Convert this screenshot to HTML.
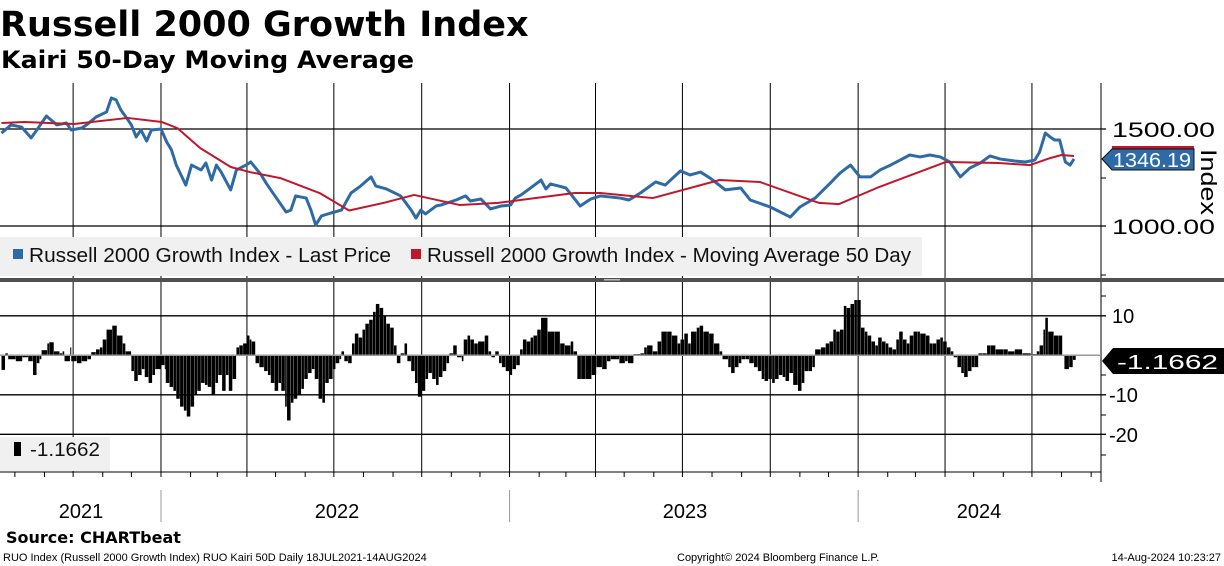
<!DOCTYPE html>
<html><head><meta charset="utf-8"><style>
html,body{margin:0;padding:0;background:#fff;}
svg{display:block;font-family:"Liberation Sans","DejaVu Sans",sans-serif;}
.t{font-family:"DejaVu Sans","Liberation Sans",sans-serif;font-weight:bold;}
</style></head><body>
<svg id="c" width="1224" height="566" viewBox="0 0 1224 566" xmlns="http://www.w3.org/2000/svg">
<text class="t" x="0" y="36" font-size="35">Russell 2000 Growth Index</text>
<text class="t" x="1" y="68" font-size="24" textLength="413" lengthAdjust="spacingAndGlyphs">Kairi 50-Day Moving Average</text>
<g id="gridG"></g>
<rect x="0" y="237" width="922" height="39" fill="#f0f0f0"/>
<g id="topG"></g>
<g id="botG"></g>
<rect x="0" y="278" width="1224" height="4" fill="#505050"/>
<rect x="604" y="279" width="16" height="1.5" fill="#bbb"/>
<rect x="13" y="249" width="10" height="10" fill="#2e6aa6"/>
<text x="29" y="262" font-size="20" fill="#111" textLength="362" lengthAdjust="spacingAndGlyphs">Russell 2000 Growth Index - Last Price</text>
<rect x="411" y="249" width="10" height="10" fill="#c0182a"/>
<text x="427" y="262" font-size="20" fill="#111" textLength="484" lengthAdjust="spacingAndGlyphs">Russell 2000 Growth Index - Moving Average 50 Day</text>
<rect x="0" y="437" width="110" height="34" fill="#f0f0f0"/>
<rect x="14" y="442" width="7" height="14" fill="#000"/>
<text x="30" y="456" font-size="19" fill="#111" textLength="70" lengthAdjust="spacingAndGlyphs">-1.1662</text>
<text x="1112" y="137" font-size="21" textLength="103" lengthAdjust="spacingAndGlyphs">1500.00</text>
<text x="1112" y="234" font-size="21" textLength="103" lengthAdjust="spacingAndGlyphs">1000.00</text>
<text x="1207" y="182" font-size="22" transform="rotate(90 1207 182)" text-anchor="middle" dominant-baseline="middle" textLength="66" lengthAdjust="spacingAndGlyphs">Index</text>
<rect x="1112" y="146" width="82" height="3" fill="#c0182a"/>
<path d="M1102,159 L1112,149 L1194,149 L1194,170 L1112,170 Z" fill="#2e6aa6" stroke="#111" stroke-width="1"/>
<text x="1113" y="167" font-size="20" fill="#fff" textLength="78" lengthAdjust="spacingAndGlyphs">1346.19</text>
<text x="1112" y="323" font-size="20">10</text>
<text x="1109" y="402" font-size="20">-10</text>
<text x="1109" y="442" font-size="20">-20</text>
<path d="M1102,361 L1113,348 L1224,348 L1224,374 L1113,374 Z" fill="#000"/>
<text x="1117" y="369" font-size="20" fill="#fff" textLength="101" lengthAdjust="spacingAndGlyphs">-1.1662</text>
<g id="xaxisG"></g>
<text x="81" y="518" font-size="20" text-anchor="middle">2021</text>
<text x="337" y="518" font-size="20" text-anchor="middle">2022</text>
<text x="685" y="518" font-size="20" text-anchor="middle">2023</text>
<text x="979" y="518" font-size="20" text-anchor="middle">2024</text>
<text class="t" x="6" y="543" font-size="16">Source: CHARTbeat</text>
<text x="3" y="561" font-size="11">RUO Index (Russell 2000 Growth Index) RUO Kairi 50D  Daily 18JUL2021-14AUG2024</text>
<text x="677" y="561" font-size="11">Copyright© 2024 Bloomberg Finance L.P.</text>
<text x="1221" y="561" font-size="11" text-anchor="end">14-Aug-2024 10:23:27</text>
</svg>
<script>
const priceDays=[0,10,21,31,37,47,58,68,73,84,89,99,110,115,120,125,131,136,141,146,152,157,167,173,178,183,188,193,199,209,214,220,225,230,240,246,256,261,272,277,282,293,298,303,308,319,324,329,335,345,356,366,376,387,392,403,418,429,434,439,444,455,460,476,486,491,502,512,523,533,538,544,554,565,570,575,591,601,606,617,627,648,657,669,685,695,711,721,732,742,758,774,784,805,826,836,852,868,878,889,899,910,920,931,941,951,962,972,983,993,1004,1014,1025,1035,1046,1061,1072,1082,1087,1093,1098,1103,1108,1114,1119,1123];
const priceVals=[1479,1521,1510,1454,1495,1567,1521,1531,1495,1505,1521,1562,1588,1660,1650,1598,1557,1521,1459,1495,1438,1495,1500,1433,1392,1314,1263,1211,1314,1289,1325,1237,1314,1278,1186,1289,1314,1330,1263,1222,1186,1108,1072,1082,1155,1144,1082,1005,1052,1067,1082,1170,1206,1253,1206,1191,1155,1082,1041,1082,1062,1103,1108,1134,1155,1129,1139,1088,1103,1108,1144,1160,1196,1237,1191,1217,1196,1134,1103,1139,1155,1144,1134,1170,1227,1211,1284,1263,1278,1247,1186,1196,1134,1098,1046,1098,1144,1222,1273,1314,1253,1253,1289,1314,1340,1366,1356,1366,1356,1330,1253,1299,1325,1361,1345,1335,1330,1340,1381,1479,1459,1443,1443,1330,1314,1346];
const maDays=[0,24,76,132,168,184,208,240,260,292,333,364,400,432,480,520,600,627,682,752,794,856,877,919,989,1044,1077,1098,1110,1123];
const maVals=[1531,1536,1526,1557,1536,1505,1402,1304,1278,1247,1170,1080,1119,1160,1108,1119,1170,1170,1144,1237,1227,1119,1113,1201,1330,1325,1314,1350,1366,1361];
const kairiDays=[0,4,7,15,22,28,33,37,40,42,48,50,55,61,64,66,72,73,79,84,90,94,99,103,106,110,116,121,127,130,136,139,143,147,150,154,158,161,167,171,172,176,180,183,187,191,194,198,202,205,209,213,216,220,224,227,231,235,238,242,246,249,253,257,260,262,266,270,275,279,282,286,290,293,297,299,303,306,310,314,317,321,325,328,332,336,339,343,347,350,354,356,359,363,367,370,374,378,381,385,389,392,396,400,403,407,411,414,418,422,425,429,433,436,440,444,447,451,455,458,462,466,469,473,477,482,484,488,491,495,499,506,510,513,517,521,524,528,532,535,539,543,546,550,554,557,561,565,572,579,585,590,596,599,603,607,612,618,623,629,634,638,647,653,656,662,665,669,673,676,682,687,691,697,702,708,711,715,719,722,728,731,735,741,746,752,755,761,764,768,772,775,779,783,788,792,796,799,803,807,810,814,818,821,825,829,834,838,841,845,849,852,858,863,867,871,874,878,882,885,889,893,896,900,904,907,911,915,918,922,926,929,933,937,940,944,948,951,955,959,962,968,972,975,979,983,986,990,994,997,1001,1005,1008,1012,1016,1019,1023,1027,1032,1036,1041,1049,1054,1061,1069,1078,1084,1087,1091,1093,1096,1102,1107,1111,1113,1118,1122];
const kairiVals=[-3.7,0.5,-1,-1.5,-0.5,-1.5,-5,-2,-1,1.3,3,3.3,1,0.5,1,-1.5,2,-1.5,-2,-1.5,-1,0.8,1.5,2,4,6.5,7.5,5,3,1,-4,-6.5,-5,-3.5,-5.5,-7,-5,-3.5,-2.5,-3.5,-7,-8,-9,-11,-13,-14,-15.5,-13,-10,-9,-7,-7.5,-8,-10,-7,-5,-9,-5,-9,-6,2,2.5,3,5,4,3.5,-2,-3,-4,-5,-7,-9,-7,-9,-13,-16.5,-12,-11,-10,-8.5,-6,-4.5,-3.5,-6,-11,-12,-7,-6,-3.5,-2,-1,1,-1.5,-2,3,5.5,4.5,6.5,8,9,11,13,12,10,8,7,2.5,-2,0.5,3,-1.5,-4,-7,-10.5,-9,-6,-4.5,-6,-7.5,-5.5,-4,-2,0.5,2.5,-0.5,-1.5,4,5,4,3,3.5,5,1,-0.5,1,-2,-3,-4,-5,-3.5,-2.5,1.5,4,3.5,4.5,5,6.5,9.5,6,6,3,2.5,3.5,1,-6,-6,-6,-5,-3,-3.5,-1.5,-1,-2,-1.5,-2,0.3,0.3,0.5,2,2.5,1,3.5,6,6,5,3,4,5.5,3,6,7,7.5,6,5.5,3,1,-1,-3,-4.5,-3,-2,-1,-1,-2,-3,-4,-6,-6.5,-6,-7,-6,-5,-5.5,-6.5,-4.5,-7.5,-9,-7,-4,-4,-3,1.5,2,3,3.5,6.5,6,6.5,12.5,12,13,14,14,7,6,5,3.5,2.5,4.5,3.5,3,2,1.5,4,6,4,3,5,6,6,5.5,5,3,3,4,4.5,3.5,2,1,-0.5,-3,-4.5,-5.5,-4,-3,-3,0.5,0.5,2.5,2.5,1.5,1.5,1,1.5,0.5,0.3,1,2.5,6.5,9.5,6,5,5,0,-3.5,-3,-1.1662];
const gridDays=[75,167,257,348,440,532,622,713,805,897,988,1079];
const priceTicks=[1000,1500];
const kairiTicks=[10,-10,-20];

const NS='http://www.w3.org/2000/svg';
const X=d=>1.5+d*0.955;
const YP=v=>226-(v-1000)*0.194;
const YK=v=>355.3-v*3.95;
function mk(tag,attrs,parent){const e=document.createElementNS(NS,tag);for(const k in attrs)e.setAttribute(k,attrs[k]);parent.appendChild(e);return e;}
const gG=document.getElementById('gridG'),tG=document.getElementById('topG'),bG=document.getElementById('botG'),xG=document.getElementById('xaxisG');
gridDays.forEach(d=>{
  const l=mk('line',{x1:X(d),x2:X(d),y1:83,y2:472,stroke:'#000','stroke-width':1},gG);
  
  
});
priceTicks.forEach(v=>{
  const l=mk('line',{x1:0,x2:1106,y1:YP(v),y2:YP(v),stroke:'#000','stroke-width':1.3},gG);
  
  
});
kairiTicks.forEach(v=>{
  const l=mk('line',{x1:0,x2:1106,y1:YK(v),y2:YK(v),stroke:'#000','stroke-width':1.3},gG);
  
  
});
const ax=mk('line',{x1:1101,x2:1101,y1:83,y2:482,stroke:'#000','stroke-width':1},gG);


[178,275,296,375,415,455].forEach(y=>{
  const t=mk('line',{x1:1101,x2:1106,y1:y,y2:y,stroke:'#000'},gG);
  
  
});
for(let i=0;i<kairiDays.length;i++){
  const x0=X(kairiDays[i]);const x1=i<kairiDays.length-1?X(kairiDays[i+1]):x0+3;
  const v=kairiVals[i];const y0=YK(0),y1=YK(v);
  const r=mk('rect',{x:x0,y:Math.min(y0,y1),width:Math.max(1,x1-x0-0.3),height:Math.abs(y1-y0),fill:'#000'},bG);
  
  
}
const z=mk('line',{x1:0,x2:1101,y1:YK(0),y2:YK(0),stroke:'#999','stroke-width':1.5},bG);


const pp=mk('polyline',{points:priceDays.map((d,i)=>X(d)+','+YP(priceVals[i])).join(' '),fill:'none',stroke:'#2e6aa6','stroke-width':3,'stroke-linejoin':'round'},tG);


const mp=mk('polyline',{points:maDays.map((d,i)=>X(d)+','+YP(maVals[i])).join(' '),fill:'none',stroke:'#c0182a','stroke-width':2,'stroke-linejoin':'round'},tG);


const xl=mk('line',{x1:0,x2:1101,y1:472,y2:472,stroke:'#000','stroke-width':1},xG);


const startT=Date.UTC(2021,6,18);
for(let y=2021;y<=2024;y++)for(let m=0;m<12;m++){
  const d=(Date.UTC(y,m,1)-startT)/864e5;if(d<0||d>1150)continue;
  const t=mk('line',{x1:X(d),x2:X(d),y1:472,y2:477,stroke:'#000'},xG);
  
  
}
[2022,2023,2024].forEach(y=>{
  const d=(Date.UTC(y,0,1)-startT)/864e5;
  const t=mk('line',{x1:X(d),x2:X(d),y1:490,y2:522,stroke:'#999'},xG);
  
  
});
</script>
</body></html>
